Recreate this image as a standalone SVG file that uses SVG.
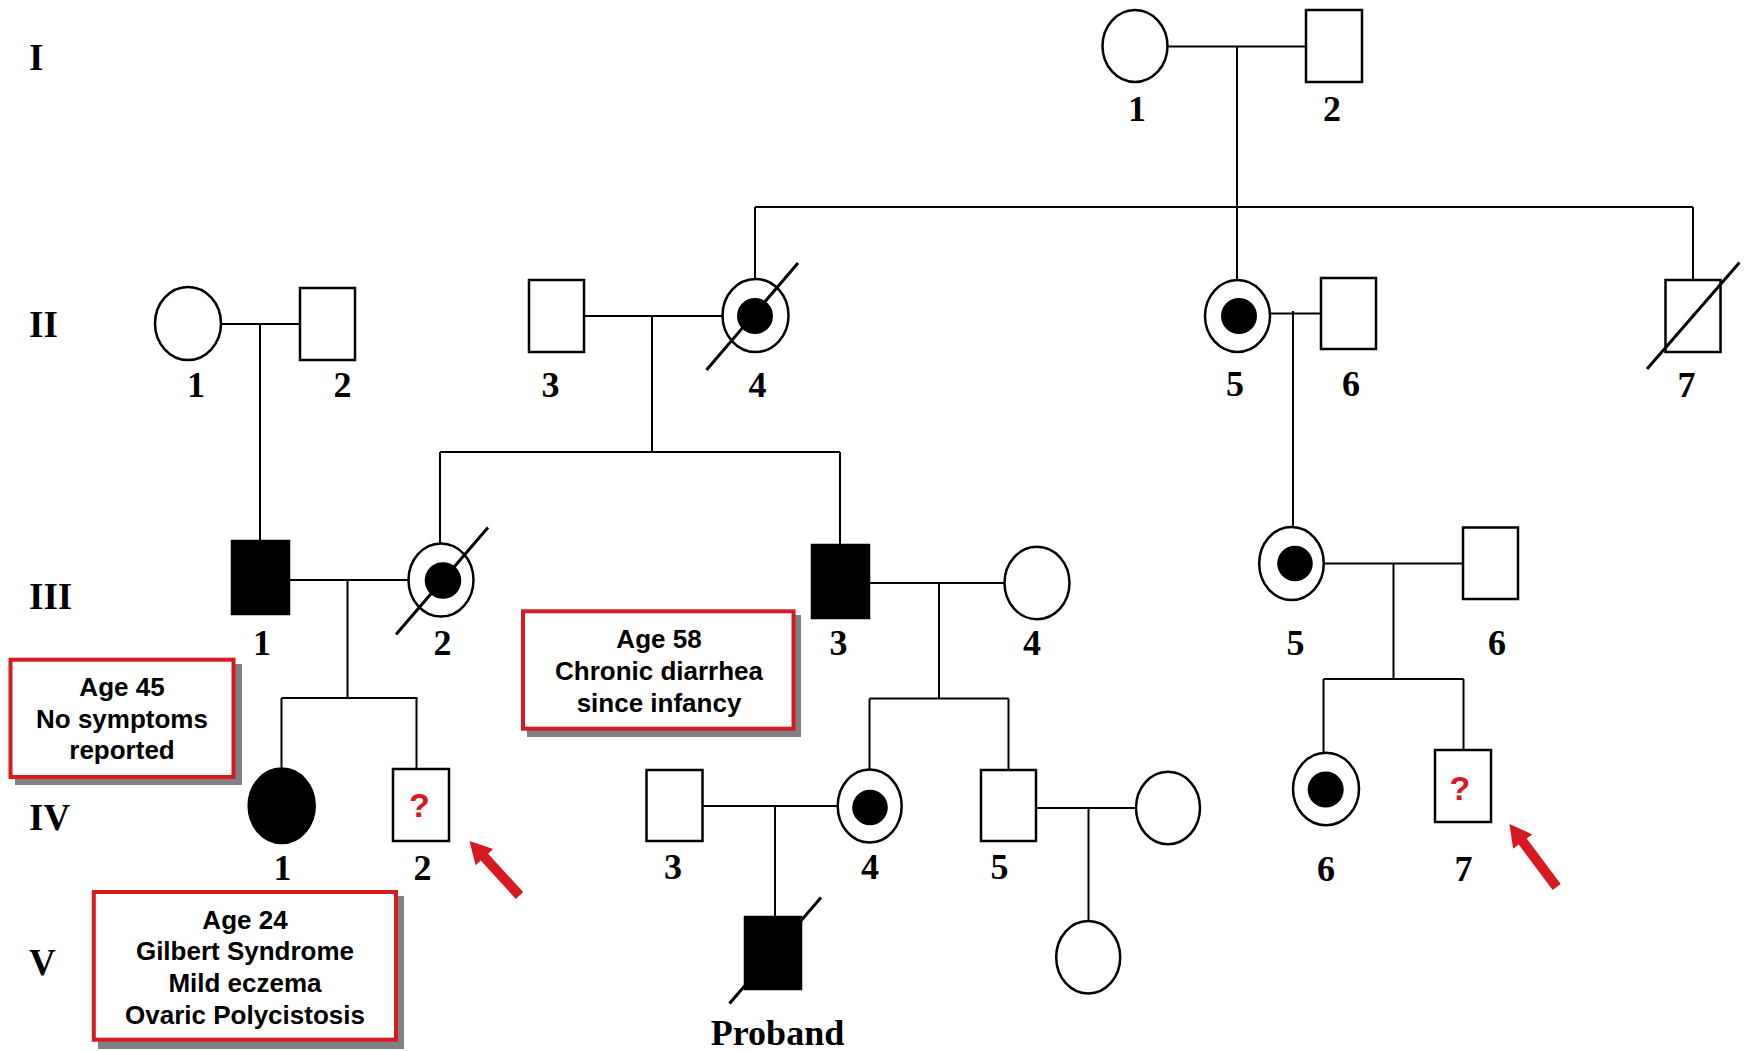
<svg xmlns="http://www.w3.org/2000/svg" width="1745" height="1051" viewBox="0 0 1745 1051">
<style>
.sym{fill:#fff;stroke:#000;stroke-width:2.5}
.aff{fill:#000;stroke:#000;stroke-width:2.5}
.dot{fill:#000;stroke:none}
.ln{stroke:#000;stroke-width:2;fill:none}
.slash{stroke:#000;stroke-width:3;fill:none}
.num{font-family:"Liberation Serif","Times New Roman",serif;font-weight:bold;font-size:36px;text-anchor:middle;fill:#000}
.gen{font-family:"Liberation Serif","Times New Roman",serif;font-weight:bold;font-size:37px;fill:#000}
.note{font-family:"Liberation Sans",Arial,sans-serif;font-weight:bold;font-size:26px;text-anchor:middle;fill:#000}
.box{fill:#fff;stroke:#d71920;stroke-width:4}
.shadow{fill:#808080}
.q{font-family:"Liberation Sans",Arial,sans-serif;font-weight:bold;font-size:34px;text-anchor:middle;fill:#d71920}
.arrow{fill:#d71920}
</style>
<rect width="1745" height="1051" fill="#fff"/>

<g id="generation-labels">
<text class="gen" x="29" y="70">I</text>
<text class="gen" x="29" y="337">II</text>
<text class="gen" x="29" y="609">III</text>
<text class="gen" x="29" y="830">IV</text>
<text class="gen" x="29" y="975">V</text>
</g>

<g id="connectors">
<!-- Gen I -->
<line class="ln" x1="1167.5" y1="46.5" x2="1306" y2="46.5"/>
<line class="ln" x1="1237" y1="46.5" x2="1237" y2="207"/>
<line class="ln" x1="755" y1="207" x2="1693" y2="207"/>
<line class="ln" x1="755" y1="207" x2="755" y2="279"/>
<line class="ln" x1="1237" y1="207" x2="1237" y2="280"/>
<line class="ln" x1="1693" y1="207" x2="1693" y2="280"/>
<!-- Gen II -->
<line class="ln" x1="221" y1="324" x2="300" y2="324"/>
<line class="ln" x1="260" y1="324" x2="260" y2="541"/>
<line class="ln" x1="584" y1="316" x2="722.5" y2="316"/>
<line class="ln" x1="652" y1="316" x2="652" y2="452"/>
<line class="ln" x1="440" y1="452" x2="840" y2="452"/>
<line class="ln" x1="440" y1="452" x2="440" y2="543.5"/>
<line class="ln" x1="840" y1="452" x2="840" y2="545"/>
<line class="ln" x1="1270" y1="313.5" x2="1321" y2="313.5"/>
<line class="ln" x1="1293" y1="311" x2="1293" y2="527"/>
<!-- Gen III -->
<line class="ln" x1="289" y1="580" x2="408.5" y2="580"/>
<line class="ln" x1="347.5" y1="580" x2="347.5" y2="698"/>
<line class="ln" x1="281.5" y1="698" x2="417.5" y2="698"/>
<line class="ln" x1="281.5" y1="698" x2="281.5" y2="768.5"/>
<line class="ln" x1="416.5" y1="698" x2="416.5" y2="769"/>
<line class="ln" x1="869" y1="583" x2="1004.5" y2="583"/>
<line class="ln" x1="939" y1="583" x2="939" y2="698.5"/>
<line class="ln" x1="869.5" y1="698.5" x2="1008.5" y2="698.5"/>
<line class="ln" x1="869.5" y1="698.5" x2="869.5" y2="769.5"/>
<line class="ln" x1="1008.5" y1="698.5" x2="1008.5" y2="770"/>
<line class="ln" x1="1324" y1="563.5" x2="1463" y2="563.5"/>
<line class="ln" x1="1393.5" y1="563.5" x2="1393.5" y2="679"/>
<line class="ln" x1="1323.5" y1="679" x2="1463.5" y2="679"/>
<line class="ln" x1="1323.5" y1="679" x2="1323.5" y2="752.5"/>
<line class="ln" x1="1463.5" y1="679" x2="1463.5" y2="750"/>
<!-- Gen IV -->
<line class="ln" x1="702.5" y1="806" x2="837.5" y2="806"/>
<line class="ln" x1="775" y1="806" x2="775" y2="917"/>
<line class="ln" x1="1036" y1="808" x2="1135.5" y2="808"/>
<line class="ln" x1="1088.5" y1="808" x2="1088.5" y2="921"/>
</g>

<g id="I-1"><ellipse class="sym" cx="1135" cy="46" rx="32.5" ry="36"/><text class="num" x="1137" y="121">1</text></g>
<g id="I-2"><rect class="sym" x="1306" y="10" width="56" height="72"/><text class="num" x="1332" y="121">2</text></g>

<g id="II-1"><ellipse class="sym" cx="188" cy="323.5" rx="33" ry="36.5"/><text class="num" x="196" y="397">1</text></g>
<g id="II-2"><rect class="sym" x="300" y="288" width="55" height="72"/><text class="num" x="342.5" y="397">2</text></g>
<g id="II-3"><rect class="sym" x="529" y="280" width="55" height="72"/><text class="num" x="550.5" y="397">3</text></g>
<g id="II-4"><ellipse class="sym" cx="755.5" cy="315.5" rx="33" ry="36.5"/><circle class="dot" cx="755" cy="316" r="18"/><line class="slash" x1="706.5" y1="370" x2="798" y2="263"/><text class="num" x="757.5" y="397">4</text></g>
<g id="II-5"><ellipse class="sym" cx="1237.5" cy="316" rx="32.5" ry="36"/><circle class="dot" cx="1239" cy="316" r="18"/><text class="num" x="1235" y="396">5</text></g>
<g id="II-6"><rect class="sym" x="1321" y="278" width="55" height="71"/><text class="num" x="1351" y="396">6</text></g>
<g id="II-7"><rect class="sym" x="1665.5" y="280" width="55" height="72"/><line class="slash" x1="1647" y1="369" x2="1739.5" y2="262.5"/><text class="num" x="1686.5" y="397">7</text></g>

<g id="III-1"><rect class="aff" x="232" y="541" width="57" height="73"/><text class="num" x="262" y="655">1</text></g>
<g id="III-2"><ellipse class="sym" cx="441" cy="580" rx="32.5" ry="36.5"/><circle class="dot" cx="443" cy="580.5" r="18.3"/><line class="slash" x1="396" y1="634.5" x2="488" y2="527.5"/><text class="num" x="442.5" y="655">2</text></g>
<g id="III-3"><rect class="aff" x="812" y="545" width="57" height="73"/><text class="num" x="838.5" y="655">3</text></g>
<g id="III-4"><ellipse class="sym" cx="1037" cy="583" rx="32.5" ry="36.2"/><text class="num" x="1032" y="655">4</text></g>
<g id="III-5"><ellipse class="sym" cx="1291.5" cy="563.5" rx="32.3" ry="36.5"/><circle class="dot" cx="1295" cy="563.5" r="17.8"/><text class="num" x="1295.5" y="655">5</text></g>
<g id="III-6"><rect class="sym" x="1463" y="527.5" width="55" height="71.5"/><text class="num" x="1497" y="655">6</text></g>

<g id="IV-1"><ellipse class="aff" cx="281.7" cy="805.8" rx="33" ry="37.2"/><text class="num" x="282.5" y="880">1</text></g>
<g id="IV-2"><rect class="sym" x="393" y="769" width="56" height="72"/><text class="q" x="419.5" y="817">?</text><text class="num" x="422.5" y="880">2</text></g>
<g id="IV-3"><rect class="sym" x="646.5" y="770" width="56" height="71"/><text class="num" x="673" y="879">3</text></g>
<g id="IV-4"><ellipse class="sym" cx="869.7" cy="806" rx="32" ry="36.5"/><circle class="dot" cx="870" cy="807.5" r="17.8"/><text class="num" x="870" y="879">4</text></g>
<g id="IV-5"><rect class="sym" x="981" y="770" width="55" height="71"/><text class="num" x="999.5" y="879">5</text></g>
<g id="IV-5-spouse"><ellipse class="sym" cx="1168" cy="808" rx="32" ry="36.2"/></g>
<g id="IV-6"><ellipse class="sym" cx="1326" cy="789" rx="33" ry="36.3"/><circle class="dot" cx="1325.7" cy="789.5" r="18"/><text class="num" x="1326" y="881">6</text></g>
<g id="IV-7"><rect class="sym" x="1435" y="750" width="56" height="72"/><text class="q" x="1460" y="799.5">?</text><text class="num" x="1463.5" y="881">7</text></g>

<g id="V-proband"><rect class="aff" x="745" y="917" width="56" height="72"/><line class="slash" x1="729.5" y1="1003.5" x2="821" y2="897.5"/><text class="num" x="777.5" y="1045">Proband</text></g>
<g id="V-2"><ellipse class="sym" cx="1088.2" cy="957.2" rx="32" ry="36.2"/></g>

<g id="note-age45">
<rect class="shadow" x="15" y="664" width="227" height="121"/>
<rect class="box" x="10.5" y="659.7" width="223" height="117.3"/>
<text class="note" x="122" y="696">Age 45</text>
<text class="note" x="122" y="727.5">No symptoms</text>
<text class="note" x="122" y="759">reported</text>
</g>
<g id="note-age58">
<rect class="shadow" x="527" y="615" width="274" height="122"/>
<rect class="box" x="523" y="611.3" width="270.5" height="117.4"/>
<text class="note" x="659" y="647.5">Age 58</text>
<text class="note" x="659" y="679.5">Chronic diarrhea</text>
<text class="note" x="659" y="711.5">since infancy</text>
</g>
<g id="note-age24">
<rect class="shadow" x="98" y="896" width="306" height="153"/>
<rect class="box" x="93.8" y="892" width="302.2" height="147.7"/>
<text class="note" x="245" y="928.5">Age 24</text>
<text class="note" x="245" y="959.5">Gilbert Syndrome</text>
<text class="note" x="245" y="991.5">Mild eczema</text>
<text class="note" x="245" y="1023.5">Ovaric Polycistosis</text>
</g>

<g id="arrow-IV-2"><polygon class="arrow" points="469.5,841 493.2,849.1 488.1,853.8 523.2,892.1 515.8,898.9 480.7,860.6 475.6,865.3"/></g>
<g id="arrow-IV-7"><polygon class="arrow" points="1509.5,824 1532.3,834.4 1526.7,838.6 1560.7,884 1552.7,890 1518.7,844.6 1513.1,848.8"/></g>
</svg>
